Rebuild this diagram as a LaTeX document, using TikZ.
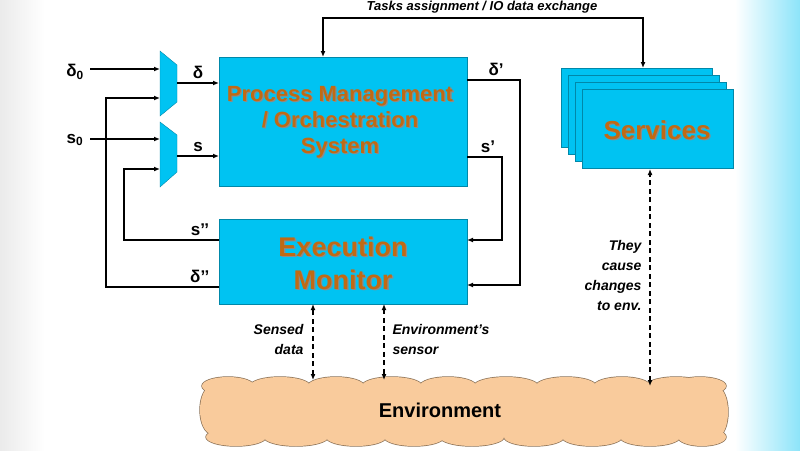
\documentclass[tikz,border=0pt]{standalone}
\usepackage{fontspec}
\setmainfont{Liberation Sans}
\usetikzlibrary{shapes.geometric, arrows.meta, positioning}
\definecolor{boxblue}{HTML}{00C3F2}
\definecolor{titleorange}{HTML}{C06A14}
\definecolor{cloudpeach}{HTML}{F9CB9C}
\tikzset{
  block/.style={draw=boxblue!70!black, fill=boxblue, inner sep=0pt},
  sig/.style={-{Latex[length=6pt,width=5pt]}, line width=1.4pt},
  env/.style={{Latex[length=6pt,width=5pt]}-{Latex[length=6pt,width=5pt]}, line width=1.4pt, dash pattern=on 5pt off 3.5pt},
  lbl/.style={font=\bfseries\fontsize{17}{17}\selectfont},
  note/.style={font=\bfseries\itshape\fontsize{14}{20}\selectfont, align=right},
  title/.style={font=\bfseries\fontsize{#1}{#1}\selectfont, text=titleorange, align=center},
  puff/.style={x radius=#1, y radius=9}
}
\newcommand{\shadowtext}[4]{%
  \node[title=#3, text=black!45] at ([xshift=1.3pt,yshift=-1.3pt]#1) {#4};
  \node[title=#3] (#2) at (#1) {#4};}
\newcommand{\cloudpuffs}{%
  \foreach \cx/\rx in {228/26,280/30,336/28,392/30,448/28,506/32,566/30,622/28,676/30,
                        700/26}
    \path (\cx,386) ellipse[puff=\rx];
  \foreach \cx/\rx in {236/30,296/32,356/30,414/30,472/32,534/30,592/30,650/30,702/24}
    \path (\cx,437) ellipse[puff=\rx];
  \path (212,410) ellipse[x radius=12, y radius=24];
  \path (718,412) ellipse[x radius=10, y radius=24];}
\begin{document}
\begin{tikzpicture}[x=1pt, y=-1pt]
  \useasboundingbox (0,0) rectangle (800,450);
  % soft page edges
  \fill[left color=black!8, right color=white] (0,0) rectangle (45,450);
  \fill[left color=white, right color=boxblue!45] (735,0) rectangle (800,450);

  % main blocks
  \draw[block] (219,57) rectangle (467,186);
  \coordinate (pm) at (340,122);
  \draw[block] (219,219) rectangle (467,304);
  \coordinate (em) at (343,263);
  \shadowtext{pm}{pmtext}{22}{Process Management\\[4pt] / Orchestration\\[4pt] System}
  \shadowtext{em}{emtext}{27}{Execution\\[6pt] Monitor}

  % services stack
  \foreach \k in {0,1,2,3}
    \draw[block] (561+7*\k,68+7*\k) rectangle (712+7*\k,147+7*\k);
  \shadowtext{657,130}{svtext}{26}{Services}

  % multiplexers
  \draw[block] (160,51) -- (177,65) -- (177,102) -- (160,116) -- cycle;
  \draw[block] (160,122) -- (177,135) -- (177,172) -- (160,187) -- cycle;

  % environment cloud
  \begin{scope}[every path/.append style={draw=cloudpeach!55!black, line width=1.4pt}]
    \cloudpuffs
  \end{scope}
  \begin{scope}[every path/.append style={fill=cloudpeach}]
    \cloudpuffs
    \path (210,388) rectangle (720,437);
  \end{scope}
  \node[font=\bfseries\fontsize{20}{20}\selectfont] (envtext) at (440,410) {Environment};

  % inputs
  \node[lbl] (d0) at (75,72) {δ\textsubscript{0}};
  \node[lbl] (s0) at (75,140) {s\textsubscript{0}};
  \coordinate (m1a) at (160,69);
  \coordinate (m1b) at (160,98);
  \coordinate (m2a) at (160,139);
  \coordinate (m2b) at (160,169);
  \draw[sig] (90,69) -- (m1a);
  \draw[sig] (90,139) -- (m2a);
  \draw[sig] (177,83) -- node[lbl, above] {δ} (219,83);
  \draw[sig] (177,156) -- node[lbl, above] {s} (219,156);

  % feedback
  \draw[sig] (467,80) -- node[lbl, above, pos=0.55] {δ’} (520,80) -- (520,285) -- (467,285);
  \draw[sig] (467,157) -- node[lbl, above, pos=0.6] {s’} (502,157) -- (502,240) -- (467,240);
  \draw[sig] (219,240) -- node[lbl, above, pos=0.2] {s’’} (124,240) -- (124,169) -- (m2b);
  \draw[sig] (219,287) -- node[lbl, above, pos=0.17] {δ’’} (106,287) -- (106,98) -- (m1b);

  % tasks exchange
  \node[font=\bfseries\itshape\fontsize{13}{13}\selectfont] (tasks) at (482,7) {Tasks assignment / IO data exchange};
  \draw[{Latex[length=6pt,width=5pt]}-{Latex[length=6pt,width=5pt]}, line width=1.4pt]
    (323,57) -- (323,18) -- (643,18) -- (643,68);

  % environment links
  \draw[env] (313,380) -- (313,304);
  \draw[env] (384,304) -- (384,380);
  \draw[env] (650,386) -- (650,169);
  \node[note, anchor=north east] (sensed) at (307,321) {Sensed\\data};
  \node[note, anchor=north west, align=left] (sensor) at (389,321) {Environment’s\\sensor};
  \node[note, anchor=north east] (cause) at (645,237) {They\\cause\\changes\\to env.};
\end{tikzpicture}
\end{document}
